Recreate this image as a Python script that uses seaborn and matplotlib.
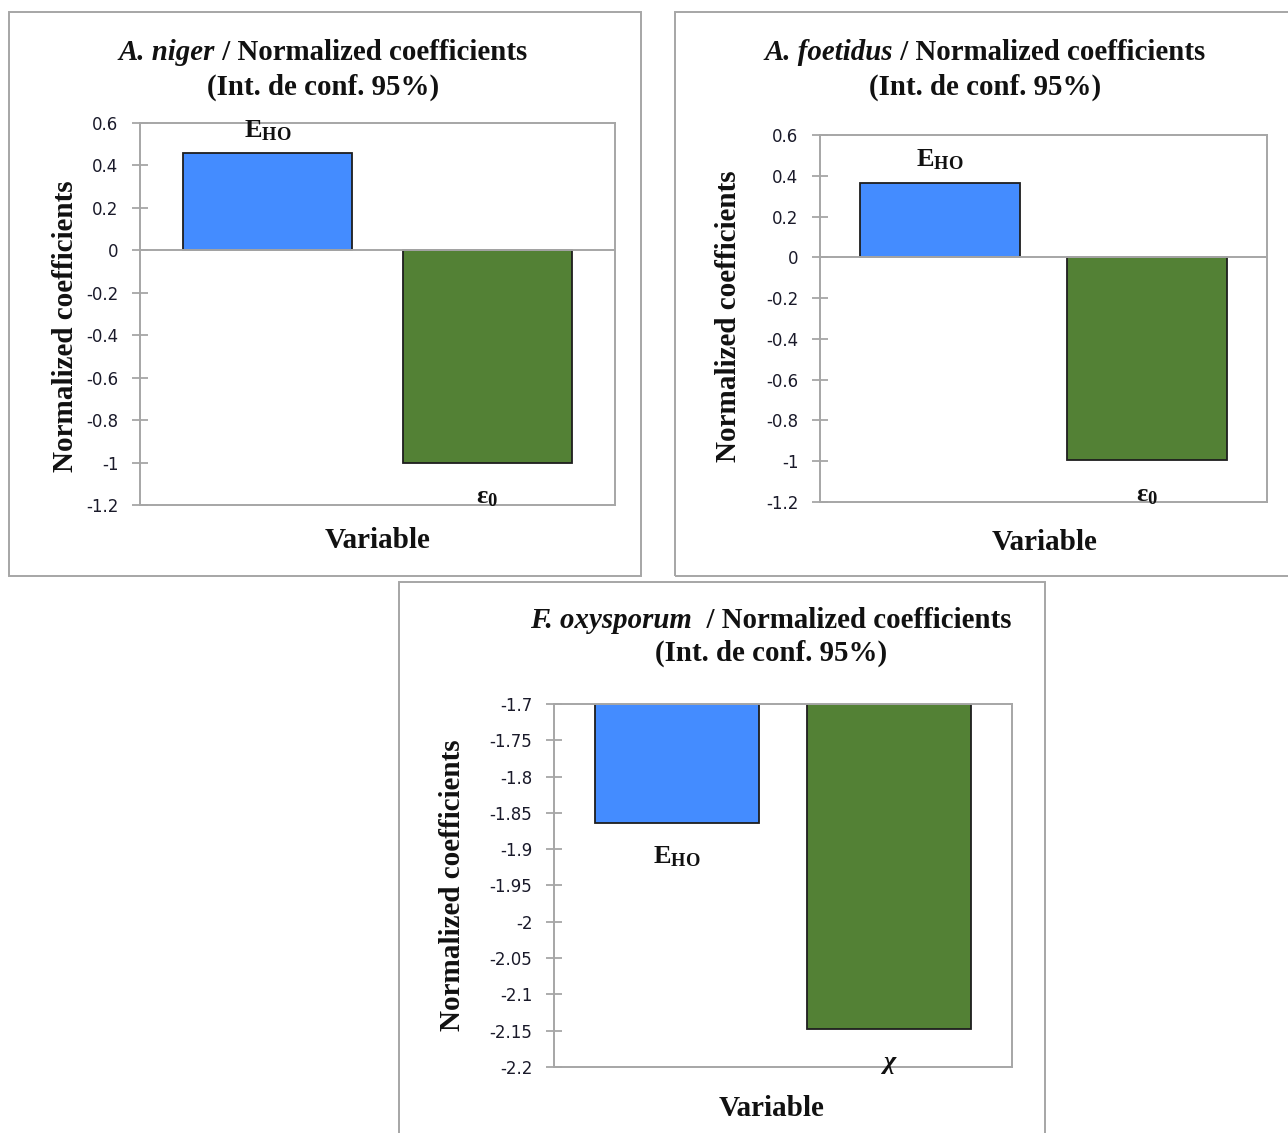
import matplotlib
matplotlib.use("Agg")
import matplotlib.pyplot as plt
import matplotlib.patches as mpatches
from matplotlib.ticker import MultipleLocator, FuncFormatter
import seaborn as sns
import pandas as pd

# ---------------- data ----------------
categories_niger = ["EHO", "eps0"]
values_niger = [0.46, -1.0]
labels_niger = [r"E$_{\mathbf{HO}}$", r"$\mathrm{\varepsilon}_{\mathbf{0}}$"]

categories_foetidus = ["EHO", "eps0"]
values_foetidus = [0.367, -0.995]
labels_foetidus = [r"E$_{\mathbf{HO}}$", r"$\mathrm{\varepsilon}_{\mathbf{0}}$"]

categories_oxy = ["EHO", "chi"]
values_oxy = [-1.864, -2.148]
labels_oxy = [r"E$_{\mathbf{HO}}$", r"$\chi$"]

species = ["A. niger", "A. foetidus", "F. oxysporum"]
title_rest = [" / Normalized coefficients", " / Normalized coefficients",
              "  / Normalized coefficients"]
title_line2 = "(Int. de conf. 95%)"
ylabel_text = "Normalized coefficients"
xlabel_text = "Variable"

BLUE = "#448CFF"
GREEN = "#538135"
GRAY = "#A6A6A6"

# ---------------- style ----------------
sns.set_theme(style="white")
plt.rcParams["font.family"] = ["DejaVu Sans"]
plt.rcParams["mathtext.fontset"] = "custom"
plt.rcParams["mathtext.rm"] = "Liberation Serif:bold"
plt.rcParams["mathtext.it"] = "Liberation Serif:italic:bold"
plt.rcParams["mathtext.bf"] = "Liberation Serif:bold"

W, H = 1288, 1133
fig = plt.figure(figsize=(W / 100, H / 100), dpi=100)
fig.patch.set_facecolor("white")


def box(x0, y0, x1, y1):
    return [x0 / W, 1 - y1 / H, (x1 - x0) / W, (y1 - y0) / H]


def fx(x):
    return x / W


def fy(y):
    return 1 - y / H


serif = dict(family="Liberation Serif", weight="bold", color="#111111")

# panel frames
for (x0, y0, x1, y1) in [(9, 12, 641, 576), (675, 12, 1295, 576), (399, 582, 1045, 1140)]:
    fig.patches.append(mpatches.Rectangle((fx(x0), fy(y1)), (x1 - x0) / W, (y1 - y0) / H,
                                          transform=fig.transFigure, fill=False,
                                          edgecolor=GRAY, linewidth=1.4, zorder=0))


def make_panel(rect, cats, vals, labels, ylim, step, zero_line, label_pos):
    ax = fig.add_axes(box(*rect))
    df = pd.DataFrame({"cat": cats, "val": vals})
    sns.barplot(data=df, x="cat", y="val", hue="cat", palette=[BLUE, GREEN],
                saturation=1, width=0.77, edgecolor="#1E1E1E", linewidth=1.3,
                legend=False, ax=ax, zorder=2)
    ax.set_xlim(-0.58, 1.58)
    ax.set_ylim(*ylim)
    ax.yaxis.set_major_locator(MultipleLocator(step))
    ax.yaxis.set_major_formatter(FuncFormatter(lambda v, p: f"{round(v, 2):g}"))
    ax.set_xticks([])
    ax.set_xlabel("")
    ax.set_ylabel("")
    for s in ax.spines.values():
        s.set_visible(True)
        s.set_color(GRAY)
        s.set_linewidth(1.4)
    ax.tick_params(axis="y", direction="inout", length=11, width=1.3, color=GRAY,
                   pad=10, labelsize=12, labelcolor="#1A1A2A", left=True)
    if zero_line:
        ax.axhline(0, color=GRAY, linewidth=1.4, zorder=3)
    for i, (lab, yp) in enumerate(zip(labels, label_pos)):
        ax.text(i, yp, lab, ha="center", va="center", fontsize=19,
                family="Liberation Serif", weight="bold", color="#111111",
                zorder=5, clip_on=False)
    return ax


make_panel((140, 123, 615, 505), categories_niger, values_niger, labels_niger,
           (-1.2, 0.6), 0.2, True, [0.565, -1.165])
make_panel((820, 135, 1267, 502), categories_foetidus, values_foetidus, labels_foetidus,
           (-1.2, 0.6), 0.2, True, [0.48, -1.17])
make_panel((554, 704, 1012, 1067), categories_oxy, values_oxy, labels_oxy,
           (-2.2, -1.7), 0.05, False, [-1.91, -2.197])

# titles (italic species name + bold upright rest)
renderer = fig.canvas.get_renderer()
TFS = 20.8
for (cx, y1, y2), sp, rest in zip([(323, 53, 87), (985, 53, 87), (771, 620, 653)],
                                  species, title_rest):
    t_it = fig.text(0, fy(y1), sp, ha="left", va="center", fontsize=TFS,
                    style="italic", **serif)
    t_rest = fig.text(0, fy(y1), rest, ha="left", va="center", fontsize=TFS, **serif)
    w_it = t_it.get_window_extent(renderer).width
    w_rest = t_rest.get_window_extent(renderer).width
    x_start = cx - (w_it + w_rest) / 2
    t_it.set_x(fx(x_start))
    t_rest.set_x(fx(x_start + w_it))
    fig.text(fx(cx), fy(y2), title_line2, ha="center", va="center", fontsize=TFS, **serif)

# axis titles
for (x, y) in [(66, 326), (728, 316), (452, 885)]:
    fig.text(fx(x), fy(y), ylabel_text, ha="center", va="center", rotation=90,
             fontsize=21, **serif)
for (x, y) in [(378, 540), (1045, 542), (772, 1108)]:
    fig.text(fx(x), fy(y), xlabel_text, ha="center", va="center", fontsize=21, **serif)

fig.savefig("out.png", dpi=100, facecolor="white")
